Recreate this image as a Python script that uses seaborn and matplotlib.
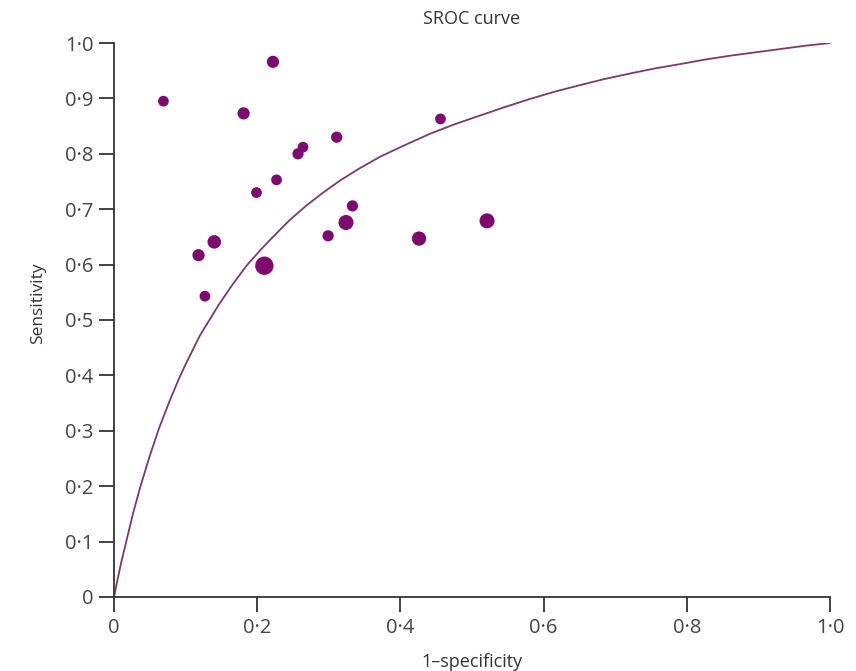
import pandas as pd
import matplotlib.pyplot as plt
import seaborn as sns

# study points (1-specificity, sensitivity) and relative study weight
fpr = [0.069, 0.222, 0.181, 0.456, 0.311, 0.264, 0.257, 0.227, 0.199, 0.333,
       0.324, 0.299, 0.426, 0.521, 0.140, 0.118, 0.210, 0.127]
sens = [0.895, 0.966, 0.873, 0.863, 0.830, 0.812, 0.800, 0.753, 0.730, 0.706,
        0.676, 0.652, 0.647, 0.679, 0.641, 0.617, 0.598, 0.543]
weight = [1, 1.3, 1.3, 1, 1.1, 1, 1.1, 1, 1, 1.1,
          2, 1.1, 1.8, 2, 1.6, 1.3, 3, 1]

# SROC curve
curve_fpr = [0.0, 0.005, 0.01, 0.018, 0.027, 0.037, 0.05, 0.063, 0.078, 0.09,
             0.10, 0.12, 0.146, 0.165, 0.185, 0.205, 0.222, 0.245, 0.269, 0.292,
             0.316, 0.342, 0.372, 0.405, 0.441, 0.475, 0.511, 0.545, 0.581,
             0.615, 0.651, 0.685, 0.721, 0.755, 0.791, 0.825, 0.860, 0.895,
             0.930, 0.965, 1.0]
curve_sens = [0.0, 0.032, 0.062, 0.105, 0.153, 0.200, 0.255, 0.305, 0.355, 0.392,
              0.420, 0.472, 0.527, 0.563, 0.598, 0.627, 0.650, 0.680, 0.707, 0.730,
              0.752, 0.773, 0.795, 0.815, 0.836, 0.853, 0.869, 0.884, 0.899,
              0.912, 0.924, 0.935, 0.945, 0.954, 0.962, 0.970, 0.977, 0.983,
              0.989, 0.995, 1.0]

yticks = [0, 0.1, 0.2, 0.3, 0.4, 0.5, 0.6, 0.7, 0.8, 0.9, 1.0]
ytick_labels = ['0', '0·1', '0·2', '0·3', '0·4', '0·5', '0·6', '0·7', '0·8', '0·9', '1·0']
xticks = [0, 0.2, 0.4, 0.6, 0.8, 1.0]
xtick_labels = ['0', '0·2', '0·4', '0·6', '0·8', '1·0']

studies = pd.DataFrame({'fpr': fpr, 'sens': sens, 'weight': weight})
curve = pd.DataFrame({'fpr': curve_fpr, 'sens': curve_sens})

sns.set_style('ticks')
plt.rcParams['font.family'] = ['Open Sans', 'DejaVu Sans']

fig = plt.figure(figsize=(8.56, 6.71), dpi=100)
ax = fig.add_axes([0.1332, 0.1103, 0.8364, 0.8256])

sns.lineplot(data=curve, x='fpr', y='sens', sort=False, estimator=None,
             color='#7a3a6c', linewidth=1.3, ax=ax)
sns.scatterplot(data=studies, x='fpr', y='sens', size='weight', sizes=(60, 175),
                size_norm=(1, 3), color='#7d0a6f', edgecolor='none',
                legend=False, clip_on=False, zorder=3, ax=ax)

ax.set_xlim(0, 1)
ax.set_ylim(0, 1)
ax.set_xticks(xticks)
ax.set_xticklabels(xtick_labels)
ax.set_yticks(yticks)
ax.set_yticklabels(ytick_labels)
ax.tick_params(axis='both', length=11, width=1.3, color='#333333',
               labelsize=14.5, labelcolor='#444444', pad=4)
for side in ['top', 'right']:
    ax.spines[side].set_visible(False)
for side in ['left', 'bottom']:
    ax.spines[side].set_linewidth(1.3)
    ax.spines[side].set_color('#333333')

ax.set_title('SROC curve', fontsize=13, color='#333333', pad=14)
ax.set_xlabel('1–specificity', fontsize=13, color='#333333', labelpad=11)
ax.set_ylabel('Sensitivity', fontsize=12.5, color='#333333')
ax.yaxis.set_label_coords(-0.095, 0.53)

plt.savefig('out.png', dpi=100)
